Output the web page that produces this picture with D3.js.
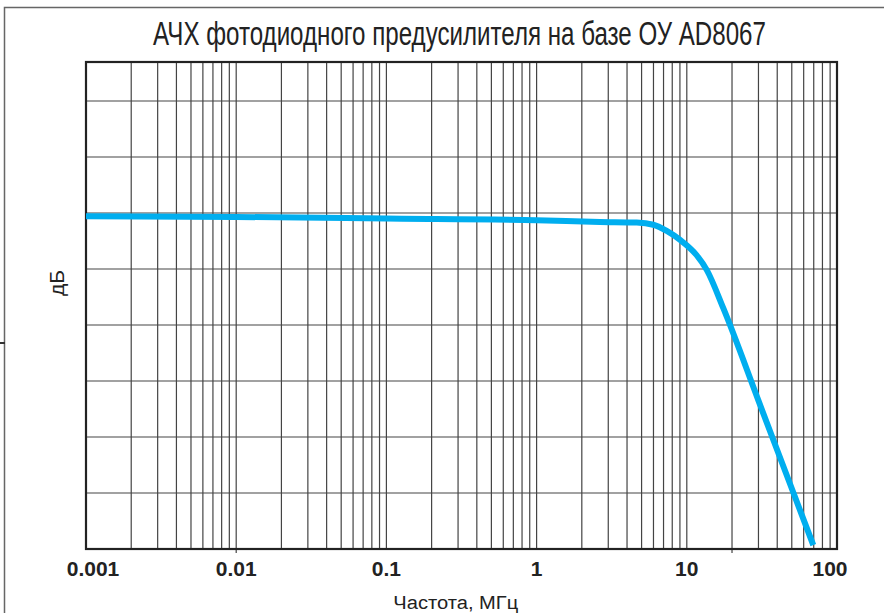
<!DOCTYPE html>
<html>
<head>
<meta charset="utf-8">
<script src="https://cdn.jsdelivr.net/npm/d3@7"></script>
<style>
  html, body { margin: 0; padding: 0; background: #fff; }
  svg { display: block; }
</style>
</head>
<body>
<svg id="chart" width="884" height="613"></svg>
<script>
// Frequency response of the AD8067 photodiode preamplifier
const titleText = "АЧХ фотодиодного предусилителя на базе ОУ AD8067";
const xTitle = "Частота, МГц";
const yTitle = "дБ";

// frequency, MHz
const freqMHz = [0.001, 0.01, 0.1, 1, 2.64, 4.64, 5.98, 7.35, 9.02, 11.6, 13.6, 17.5, 30, 50, 69.5];
// gain, dB
const gainDb  = [59.4, 59.3, 59.0, 58.7, 58.4, 58.3, 57.9, 56.8, 55.2, 52.5, 49.8, 43.0, 26.5, 10.8, 0.7];

const xTickValues = [0.001, 0.01, 0.1, 1, 10, 100];
const xTickLabels = ["0.001", "0.01", "0.1", "1", "10", "100"];
const yGridValues = [0, 10, 20, 30, 40, 50, 60, 70, 80, 90];

const svg = d3.select("#chart");
const plot = { left: 86, right: 837, top: 62, bottom: 549 };

const x = d3.scaleLog().domain([0.001, 100]).range([plot.left, plot.right]);
const y = d3.scaleLinear().domain([0, 80, 90]).range([plot.bottom, 101, plot.top]);

// outer frame
svg.append("rect")
  .attr("x", 4.5).attr("y", 7.5).attr("width", 900).attr("height", 700)
  .attr("fill", "none").attr("stroke", "#666").attr("stroke-width", 1.5);
svg.append("line")
  .attr("x1", 0).attr("x2", 5).attr("y1", 343).attr("y2", 343)
  .attr("stroke", "#333").attr("stroke-width", 2);

// vertical grid lines at 1..9 of every decade
const minorTicks = [];
for (let e = -3; e < 2; e++) {
  for (let m = 1; m <= 9; m++) {
    const v = m * Math.pow(10, e);
    if (v > 0.001) minorTicks.push(v);
  }
}
const grid = svg.append("g");
grid.selectAll("line.v").data(minorTicks).join("line")
  .attr("class", "v")
  .attr("x1", d => x(d)).attr("x2", d => x(d))
  .attr("y1", plot.top).attr("y2", plot.bottom)
  .attr("stroke", "#444").attr("stroke-width", 1.2);
grid.selectAll("line.h").data(yGridValues.slice(1, -1)).join("line")
  .attr("class", "h")
  .attr("x1", plot.left).attr("x2", plot.right)
  .attr("y1", d => y(d)).attr("y2", d => y(d))
  .attr("stroke", "#444").attr("stroke-width", 1.2);

// short ticks under the axis
svg.selectAll("line.tk").data([0.01, 20]).join("line")
  .attr("class", "tk")
  .attr("x1", d => x(d)).attr("x2", d => x(d))
  .attr("y1", plot.bottom).attr("y2", plot.bottom + 4)
  .attr("stroke", "#444").attr("stroke-width", 1.2);

// plot border
svg.append("rect")
  .attr("x", plot.left).attr("y", plot.top)
  .attr("width", plot.right - plot.left).attr("height", plot.bottom - plot.top)
  .attr("fill", "none").attr("stroke", "#222").attr("stroke-width", 2.2);

// response curve
const line = d3.line()
  .x((d, i) => x(freqMHz[i]))
  .y(d => y(d))
  .curve(d3.curveMonotoneX);
svg.append("path")
  .datum(gainDb)
  .attr("d", line)
  .attr("fill", "none")
  .attr("stroke", "#00aeef")
  .attr("stroke-width", 6);

// x tick labels
svg.selectAll("text.xl").data(xTickValues).join("text")
  .attr("class", "xl")
  .attr("x", (d, i) => x(d) + (i === 0 ? 7 : i === xTickValues.length - 1 ? -7 : 0))
  .attr("y", 576)
  .attr("text-anchor", "middle")
  .attr("font-family", "Liberation Sans, Arial, sans-serif")
  .attr("font-weight", "bold")
  .attr("font-size", 21)
  .attr("fill", "#222")
  .text((d, i) => xTickLabels[i]);

// condensed text: squeeze horizontally to the given width
function narrowText(str, cx, baseline, width, size) {
  const t = svg.append("text")
    .attr("text-anchor", "middle")
    .attr("font-family", "Liberation Sans, Arial, sans-serif")
    .attr("font-size", size)
    .attr("fill", "#222")
    .text(str);
  const natural = t.node().getComputedTextLength();
  const k = width / natural;
  t.attr("transform", `translate(${cx},${baseline}) scale(${k},1)`);
  return t;
}

narrowText(titleText, 459.5, 45, 613, 34);
narrowText(xTitle, 455.8, 609, 125, 19);

svg.append("text")
  .attr("transform", "translate(64,283) rotate(-90)")
  .attr("text-anchor", "middle")
  .attr("font-family", "Liberation Sans, Arial, sans-serif")
  .attr("font-size", 21)
  .attr("fill", "#222")
  .text(yTitle);
</script>
</body>
</html>
